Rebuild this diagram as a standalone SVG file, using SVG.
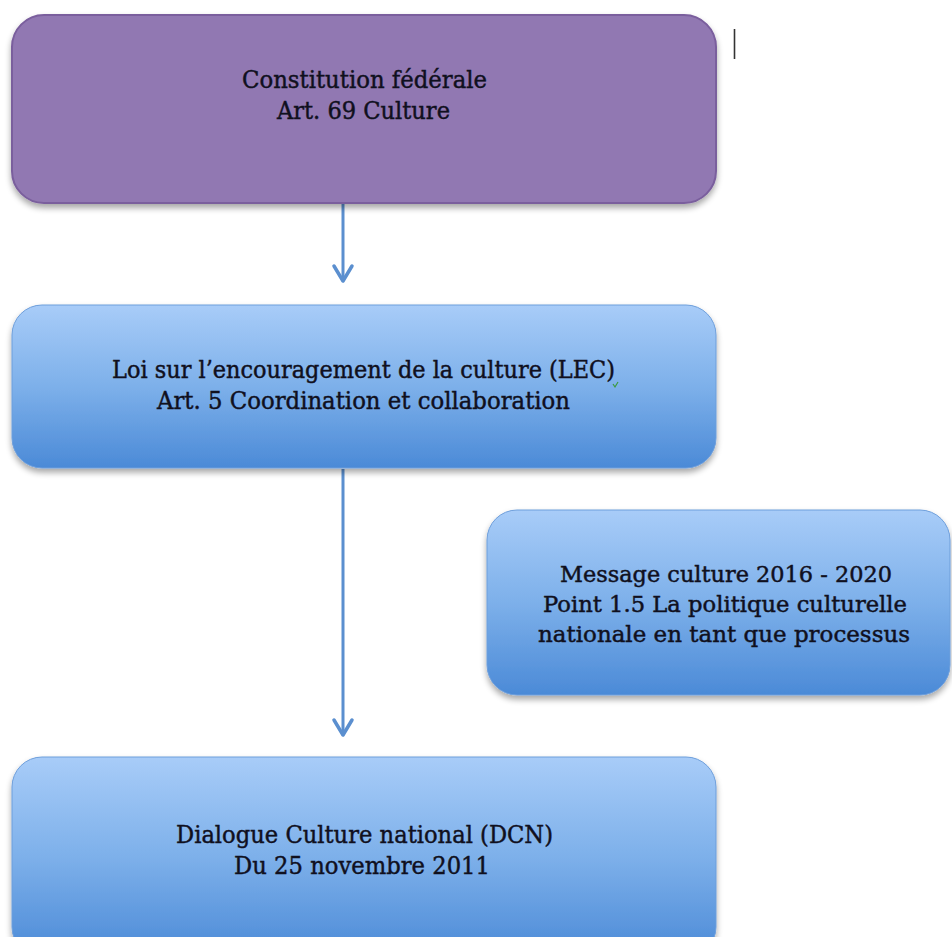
<svg xmlns="http://www.w3.org/2000/svg" width="952" height="937" viewBox="0 0 952 937">
  <defs>
    <linearGradient id="blueFill" x1="0" y1="0" x2="0" y2="1">
      <stop offset="0" stop-color="#a8ccf8"/>
      <stop offset="0.5" stop-color="#7db0ea"/>
      <stop offset="1" stop-color="#4b8ad7"/>
    </linearGradient>
    <filter id="shadow" x="-5%" y="-10%" width="110%" height="125%">
      <feGaussianBlur in="SourceAlpha" stdDeviation="3"/>
      <feOffset dx="0" dy="4" result="blur"/>
      <feComponentTransfer><feFuncA type="linear" slope="0.35"/></feComponentTransfer>
      <feMerge><feMergeNode/><feMergeNode in="SourceGraphic"/></feMerge>
    </filter>
    <!-- open chevron head, drawn along +x so orient="auto" points it down the line -->
    <marker id="head" markerWidth="24" markerHeight="24" refX="19" refY="12" orient="auto" markerUnits="userSpaceOnUse" viewBox="0 0 24 24">
      <path d="M4,3 L19,12 L4,21" fill="none" stroke="#5b8fcf" stroke-width="3.5" stroke-linecap="round" stroke-linejoin="round"/>
    </marker>
  </defs>
  <style>
    .purple { fill: #9178b2; stroke: #7a5e9d; stroke-width: 2; }
    .blue { fill: url(#blueFill); stroke: #6d9edb; stroke-width: 1; }
    .label { font-family: "DejaVu Serif", "Liberation Serif", serif; font-size: 24px; fill: #10101e; stroke: #10101e; stroke-width: 0.45; text-anchor: middle; }
    .wide { font-size: 22px; }
    .conn { stroke: #5b8fcf; stroke-width: 3; fill: none; }
  </style>

  <rect width="952" height="937" fill="#ffffff"/>

  <!-- cursor mark at the top right -->
  <line x1="734.5" y1="29" x2="734.5" y2="59" stroke="#333333" stroke-width="1.6"/>

  <!-- connectors -->
  <g id="connectors">
    <line class="conn" x1="343" y1="204" x2="343" y2="281" marker-end="url(#head)"/>
    <line class="conn" x1="343" y1="469" x2="343" y2="735" marker-end="url(#head)"/>
  </g>

  <g id="constitution">
    <rect class="purple" x="12" y="15" width="704" height="188" rx="32" filter="url(#shadow)"/>
    <text class="label" x="364.5" y="88" textLength="245" lengthAdjust="spacingAndGlyphs">Constitution fédérale</text>
    <text class="label" x="363.5" y="119" textLength="173" lengthAdjust="spacingAndGlyphs">Art. 69 Culture</text>
  </g>

  <g id="lec">
    <rect class="blue" x="12" y="305" width="704" height="163" rx="30" filter="url(#shadow)"/>
    <text class="label" x="363.5" y="378" textLength="503" lengthAdjust="spacingAndGlyphs">Loi sur l’encouragement de la culture (LEC)</text>
    <!-- small green underline mark after the closing bracket -->
    <path d="M613,384 l2,3 l3,-5" fill="none" stroke="#3c9a3c" stroke-width="1.2"/>
    <text class="label" x="363.5" y="409" textLength="413" lengthAdjust="spacingAndGlyphs">Art. 5 Coordination et collaboration</text>
  </g>

  <g id="message">
    <rect class="blue" x="487" y="510" width="463" height="185" rx="30" filter="url(#shadow)"/>
    <text class="label wide" x="726" y="582" textLength="332" lengthAdjust="spacingAndGlyphs">Message culture 2016 - 2020</text>
    <text class="label wide" x="725" y="612" textLength="364" lengthAdjust="spacingAndGlyphs">Point 1.5 La politique culturelle</text>
    <text class="label wide" x="724" y="642" textLength="372" lengthAdjust="spacingAndGlyphs">nationale en tant que processus</text>
  </g>

  <g id="dcn">
    <rect class="blue" x="12" y="757" width="704" height="200" rx="30" filter="url(#shadow)"/>
    <text class="label" x="364.5" y="843" textLength="377" lengthAdjust="spacingAndGlyphs">Dialogue Culture national (DCN)</text>
    <text class="label" x="362" y="874" textLength="256" lengthAdjust="spacingAndGlyphs">Du 25 novembre 2011</text>
  </g>
</svg>
